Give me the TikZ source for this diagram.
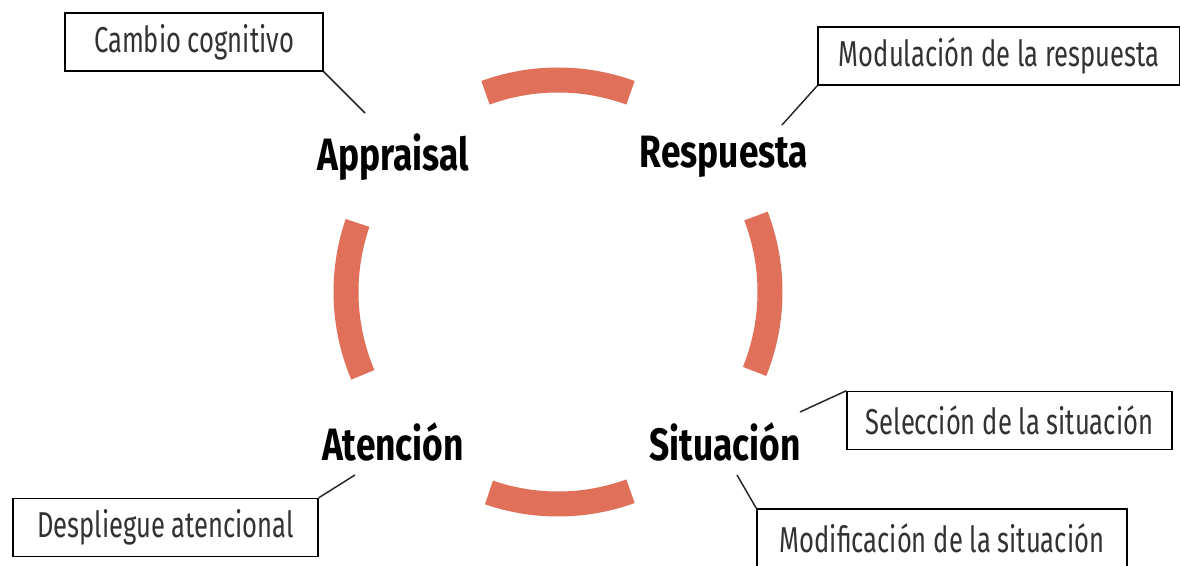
\documentclass[tikz,border=0pt]{standalone}
\usepackage{fontspec}
\setmainfont{Fira Sans}[FakeStretch=0.78]
\newfontfamily\cajafont{Fira Sans}[FakeStretch=0.71]
\definecolor{arcocol}{RGB}{224,112,90}
\definecolor{textocol}{RGB}{50,50,50}

\tikzset{
  caja/.style={draw, line width=1.1pt, inner sep=0pt, minimum height=43.5pt,
    text=textocol, font=\cajafont\fontsize{27}{30}\selectfont},
  etapa/.style={inner sep=0pt, font=\bfseries\fontsize{34}{38}\selectfont},
  arco/.style={draw=arcocol, line width=18.75pt},
  enlace/.style={line width=1.1pt, draw=black!85}
}

\begin{document}
\begin{tikzpicture}[x=0.75pt,y=0.75pt,yscale=-1,xscale=1]
\useasboundingbox (0,0) rectangle (1180,566);

%Shape: cycle arcs
\coordinate (ctr) at (558,292);
\draw [arco] ([shift={(250:212)}]ctr) arc [start angle=250, end angle=290, radius=212];
\draw [arco] ([shift={(-21:212)}]ctr) arc [start angle=-21, end angle=22, radius=212];
\draw [arco] ([shift={(70:212)}]ctr) arc [start angle=70, end angle=109, radius=212];
\draw [arco] ([shift={(157:212)}]ctr) arc [start angle=157, end angle=199, radius=212];

% Stage Nodes
\node [etapa] (appraisal) at (393,157) {Appraisal};
\node [etapa] (respuesta) at (724,157) {Respuesta};
\node [etapa] (situacion) at (725,442) {Situación};
\node [etapa] (atencion) at (393,442) {Atención};

% Box Nodes
\node [caja, minimum width=193.5pt] (cambio) at (194,42) {Cambio cognitivo};
\node [caja, minimum width=271.5pt] (modulacion) at (999,56) {Modulación de la respuesta};
\node [caja, minimum width=243.75pt] (seleccion) at (1009.5,420.5) {Selección de la situación};
\node [caja, minimum width=277.5pt] (modificacion) at (942,538) {Modificación de la situación};
\node [caja, minimum width=228.75pt] (despliegue) at (165.5,527.5) {Despliegue atencional};

% Connectors
\coordinate (pA) at (365,113);
\coordinate (pR) at (782,125);
\coordinate (pS) at (800,412);
\coordinate (pM) at (737,475);
\coordinate (pD) at (355,475);
\draw [enlace] (cambio.south east) -- (pA);
\draw [enlace] (modulacion.south west) -- (pR);
\draw [enlace] (seleccion.north west) -- (pS);
\draw [enlace] (modificacion.north west) -- (pM);
\draw [enlace] (despliegue.north east) -- (pD);

\end{tikzpicture}
\end{document}
